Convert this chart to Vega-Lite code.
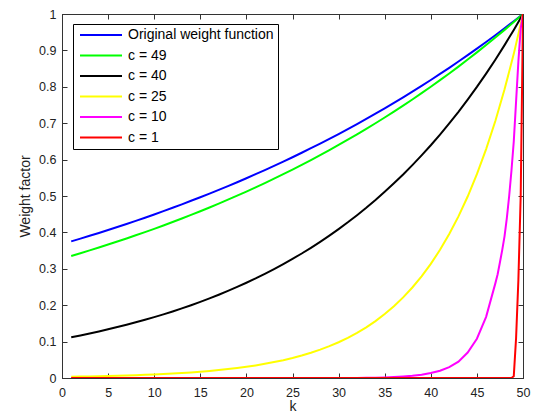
{
  "$schema": "https://vega.github.io/schema/vega-lite/v6.json",
  "width": 461,
  "height": 364,
  "autosize": {"type": "none"},
  "padding": {"left": 62, "top": 14, "right": 14, "bottom": 36},
  "background": "white",
  "config": {
    "view": {"stroke": "#333", "strokeWidth": 1},
    "font": "Liberation Sans",
    "axis": {
      "grid": false, "domainColor": "#333", "tickColor": "#333", "tickSize": -5,
      "labelFont": "Liberation Sans", "labelFontSize": 12.5, "labelColor": "#222",
      "titleFont": "Liberation Sans", "titleFontSize": 14, "titleFontWeight": "normal", "titleColor": "#222",
      "labelFlush": false, "labelOverlap": false
    }
  },
  "data": {"values": [
    {"k":1,"Original weight function":0.3753,"c = 49":0.3353,"c = 40":0.1119,"c = 25":0.0034,"c = 10":0,"c = 1":0},
    {"k":2,"Original weight function":0.3829,"c = 49":0.3429,"c = 40":0.1170,"c = 25":0.0038,"c = 10":0,"c = 1":0},
    {"k":3,"Original weight function":0.3906,"c = 49":0.3506,"c = 40":0.1223,"c = 25":0.0043,"c = 10":0,"c = 1":0},
    {"k":4,"Original weight function":0.3985,"c = 49":0.3585,"c = 40":0.1279,"c = 25":0.0048,"c = 10":0,"c = 1":0},
    {"k":5,"Original weight function":0.4066,"c = 49":0.3666,"c = 40":0.1338,"c = 25":0.0054,"c = 10":0,"c = 1":0},
    {"k":6,"Original weight function":0.4148,"c = 49":0.3749,"c = 40":0.1399,"c = 25":0.0061,"c = 10":0,"c = 1":0},
    {"k":7,"Original weight function":0.4232,"c = 49":0.3833,"c = 40":0.1463,"c = 25":0.0068,"c = 10":0,"c = 1":0},
    {"k":8,"Original weight function":0.4317,"c = 49":0.3920,"c = 40":0.1530,"c = 25":0.0077,"c = 10":0,"c = 1":0},
    {"k":9,"Original weight function":0.4404,"c = 49":0.4008,"c = 40":0.1600,"c = 25":0.0086,"c = 10":0,"c = 1":0},
    {"k":10,"Original weight function":0.4493,"c = 49":0.4098,"c = 40":0.1673,"c = 25":0.0097,"c = 10":0,"c = 1":0},
    {"k":11,"Original weight function":0.4584,"c = 49":0.4191,"c = 40":0.1749,"c = 25":0.0109,"c = 10":0,"c = 1":0},
    {"k":12,"Original weight function":0.4677,"c = 49":0.4285,"c = 40":0.1829,"c = 25":0.0122,"c = 10":0,"c = 1":0},
    {"k":13,"Original weight function":0.4771,"c = 49":0.4382,"c = 40":0.1913,"c = 25":0.0137,"c = 10":0,"c = 1":0},
    {"k":14,"Original weight function":0.4868,"c = 49":0.4481,"c = 40":0.2000,"c = 25":0.0154,"c = 10":0,"c = 1":0},
    {"k":15,"Original weight function":0.4966,"c = 49":0.4582,"c = 40":0.2092,"c = 25":0.0173,"c = 10":0,"c = 1":0},
    {"k":16,"Original weight function":0.5066,"c = 49":0.4685,"c = 40":0.2188,"c = 25":0.0194,"c = 10":0,"c = 1":0},
    {"k":17,"Original weight function":0.5169,"c = 49":0.4791,"c = 40":0.2288,"c = 25":0.0218,"c = 10":0,"c = 1":0},
    {"k":18,"Original weight function":0.5273,"c = 49":0.4899,"c = 40":0.2392,"c = 25":0.0245,"c = 10":0,"c = 1":0},
    {"k":19,"Original weight function":0.5379,"c = 49":0.5009,"c = 40":0.2502,"c = 25":0.0275,"c = 10":0,"c = 1":0},
    {"k":20,"Original weight function":0.5488,"c = 49":0.5122,"c = 40":0.2616,"c = 25":0.0308,"c = 10":0,"c = 1":0},
    {"k":21,"Original weight function":0.5599,"c = 49":0.5238,"c = 40":0.2735,"c = 25":0.0346,"c = 10":0,"c = 1":0},
    {"k":22,"Original weight function":0.5712,"c = 49":0.5356,"c = 40":0.2861,"c = 25":0.0389,"c = 10":0,"c = 1":0},
    {"k":23,"Original weight function":0.5827,"c = 49":0.5477,"c = 40":0.2991,"c = 25":0.0437,"c = 10":0,"c = 1":0},
    {"k":24,"Original weight function":0.5945,"c = 49":0.5600,"c = 40":0.3128,"c = 25":0.0490,"c = 10":0,"c = 1":0},
    {"k":25,"Original weight function":0.6065,"c = 49":0.5727,"c = 40":0.3271,"c = 25":0.0550,"c = 10":0,"c = 1":0},
    {"k":26,"Original weight function":0.6188,"c = 49":0.5856,"c = 40":0.3420,"c = 25":0.0618,"c = 10":0,"c = 1":0},
    {"k":27,"Original weight function":0.6313,"c = 49":0.5988,"c = 40":0.3577,"c = 25":0.0694,"c = 10":0,"c = 1":0},
    {"k":28,"Original weight function":0.6440,"c = 49":0.6123,"c = 40":0.3740,"c = 25":0.0780,"c = 10":0,"c = 1":0},
    {"k":29,"Original weight function":0.6570,"c = 49":0.6261,"c = 40":0.3911,"c = 25":0.0875,"c = 10":0,"c = 1":0},
    {"k":30,"Original weight function":0.6703,"c = 49":0.6402,"c = 40":0.4090,"c = 25":0.0983,"c = 10":0,"c = 1":0},
    {"k":31,"Original weight function":0.6839,"c = 49":0.6547,"c = 40":0.4277,"c = 25":0.1104,"c = 10":0,"c = 1":0},
    {"k":32,"Original weight function":0.6977,"c = 49":0.6694,"c = 40":0.4473,"c = 25":0.1240,"c = 10":0.0003,"c = 1":0},
    {"k":33,"Original weight function":0.7118,"c = 49":0.6845,"c = 40":0.4677,"c = 25":0.1392,"c = 10":0.0006,"c = 1":0},
    {"k":34,"Original weight function":0.7261,"c = 49":0.6999,"c = 40":0.4891,"c = 25":0.1563,"c = 10":0.001,"c = 1":0},
    {"k":35,"Original weight function":0.7408,"c = 49":0.7157,"c = 40":0.5115,"c = 25":0.1756,"c = 10":0.0015,"c = 1":0},
    {"k":36,"Original weight function":0.7558,"c = 49":0.7318,"c = 40":0.5349,"c = 25":0.1972,"c = 10":0.0025,"c = 1":0},
    {"k":37,"Original weight function":0.7711,"c = 49":0.7483,"c = 40":0.5593,"c = 25":0.2214,"c = 10":0.004,"c = 1":0},
    {"k":38,"Original weight function":0.7866,"c = 49":0.7652,"c = 40":0.5849,"c = 25":0.2486,"c = 10":0.006,"c = 1":0},
    {"k":39,"Original weight function":0.8025,"c = 49":0.7825,"c = 40":0.6116,"c = 25":0.2792,"c = 10":0.009,"c = 1":0},
    {"k":40,"Original weight function":0.8187,"c = 49":0.8001,"c = 40":0.6395,"c = 25":0.3135,"c = 10":0.014,"c = 1":0},
    {"k":41,"Original weight function":0.8353,"c = 49":0.8182,"c = 40":0.6688,"c = 25":0.3521,"c = 10":0.02,"c = 1":0},
    {"k":42,"Original weight function":0.8521,"c = 49":0.8366,"c = 40":0.6994,"c = 25":0.3954,"c = 10":0.03,"c = 1":0},
    {"k":43,"Original weight function":0.8694,"c = 49":0.8555,"c = 40":0.7313,"c = 25":0.4440,"c = 10":0.045,"c = 1":0},
    {"k":44,"Original weight function":0.8869,"c = 49":0.8748,"c = 40":0.7648,"c = 25":0.4986,"c = 10":0.07,"c = 1":0},
    {"k":45,"Original weight function":0.9048,"c = 49":0.8945,"c = 40":0.7997,"c = 25":0.5599,"c = 10":0.108,"c = 1":0},
    {"k":46,"Original weight function":0.9231,"c = 49":0.9147,"c = 40":0.8363,"c = 25":0.6288,"c = 10":0.168,"c = 1":0},
    {"k":47,"Original weight function":0.9418,"c = 49":0.9353,"c = 40":0.8745,"c = 25":0.7062,"c = 10":0.26,"c = 1":0},
    {"k":47.25,"c = 10":0.285,"c = 1":0},
    {"k":47.5,"c = 10":0.318,"c = 1":0},
    {"k":47.75,"c = 10":0.352,"c = 1":0},
    {"k":48,"Original weight function":0.9608,"c = 49":0.9564,"c = 40":0.9145,"c = 25":0.7930,"c = 10":0.39,"c = 1":0},
    {"k":48.25,"c = 10":0.44,"c = 1":0},
    {"k":48.5,"c = 10":0.50,"c = 1":0},
    {"k":48.75,"c = 10":0.57,"c = 1":0},
    {"k":49,"Original weight function":0.9802,"c = 49":0.9779,"c = 40":0.9563,"c = 25":0.8905,"c = 10":0.65,"c = 1":0.005},
    {"k":49.25,"c = 10":0.76,"c = 1":0.11},
    {"k":49.5,"c = 10":0.87,"c = 1":0.27},
    {"k":49.75,"c = 10":0.96,"c = 1":0.5},
    {"k":50,"Original weight function":1,"c = 49":1,"c = 40":1,"c = 25":1,"c = 10":1,"c = 1":1}
  ]},
  "transform": [
    {"fold": ["Original weight function", "c = 49", "c = 40", "c = 25", "c = 10", "c = 1"], "as": ["series", "w"]},
    {"filter": "isValid(datum.w)"}
  ],
  "layer": [
    {
      "mark": {"type": "line", "strokeWidth": 2, "clip": true},
      "encoding": {
        "x": {"field": "k", "type": "quantitative",
          "scale": {"domain": [0, 50], "nice": false},
          "axis": {"values": [0,5,10,15,20,25,30,35,40,45,50], "title": "k", "labelPadding": 13, "titlePadding": 1}},
        "y": {"field": "w", "type": "quantitative",
          "scale": {"domain": [0, 1], "nice": false},
          "axis": {"values": [0,0.1,0.2,0.3,0.4,0.5,0.6,0.7,0.8,0.9,1], "format": "~g", "title": "Weight factor", "labelPadding": 11, "titlePadding": 6}},
        "color": {"field": "series", "type": "nominal",
          "scale": {"domain": ["Original weight function", "c = 49", "c = 40", "c = 25", "c = 10", "c = 1"],
                    "range": ["#0000ff", "#00ff00", "#000000", "#ffff00", "#ff00ff", "#ff0000"]},
          "legend": {"title": null, "orient": "none", "legendX": 11, "legendY": 10, "direction": "vertical",
            "strokeColor": "#000", "fillColor": "#fff", "padding": 4, "cornerRadius": 0,
            "symbolType": "stroke", "symbolSize": 1764, "symbolStrokeWidth": 2, "symbolOffset": 2,
            "labelFont": "Liberation Sans", "labelFontSize": 14, "labelColor": "#000", "labelOffset": 5,
            "clipHeight": 14, "rowPadding": 6.5}}
      }
    },
    {
      "mark": {"type": "point", "opacity": 0},
      "encoding": {
        "x": {"field": "k", "type": "quantitative",
          "scale": {"domain": [0, 50], "nice": false},
          "axis": {"orient": "top", "values": [0,5,10,15,20,25,30,35,40,45,50], "labels": false, "title": null}},
        "y": {"field": "w", "type": "quantitative",
          "scale": {"domain": [0, 1], "nice": false},
          "axis": {"orient": "right", "values": [0,0.1,0.2,0.3,0.4,0.5,0.6,0.7,0.8,0.9,1], "labels": false, "title": null}}
      }
    }
  ],
  "resolve": {"axis": {"x": "independent", "y": "independent"}}
}
